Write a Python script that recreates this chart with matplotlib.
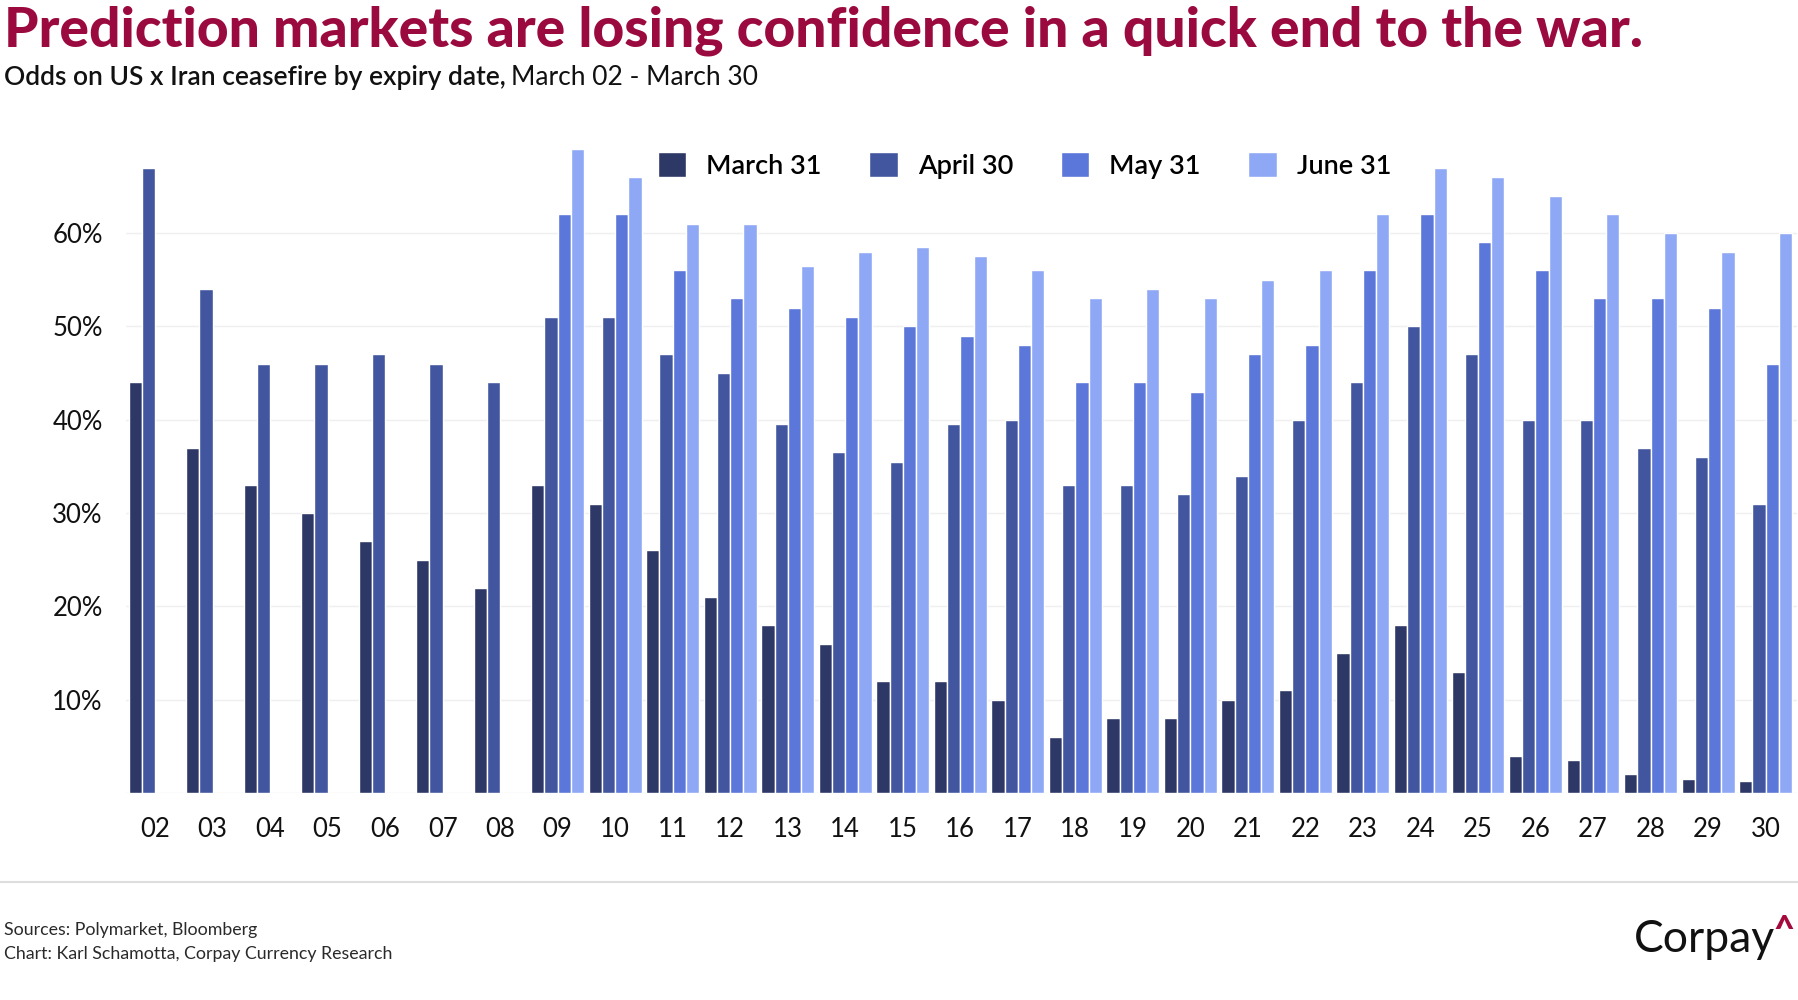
import numpy as np
import matplotlib.pyplot as plt

# expiry dates (March 2026) and odds in %
dates = ['02', '03', '04', '05', '06', '07', '08', '09', '10', '11', '12', '13', '14', '15',
         '16', '17', '18', '19', '20', '21', '22', '23', '24', '25', '26', '27', '28', '29', '30']
march31 = [44, 37, 33, 30, 27, 25, 22, 33, 31, 26, 21, 18, 16, 12, 12, 10, 6, 8, 8, 10, 11,
           15, 18, 13, 4, 3.6, 2, 1.5, 1.3]
april30 = [67, 54, 46, 46, 47, 46, 44, 51, 51, 47, 45, 39.5, 36.5, 35.5, 39.5, 40, 33, 33, 32,
           34, 40, 44, 50, 47, 40, 40, 37, 36, 31]
may31 = [np.nan] * 7 + [62, 62, 56, 53, 52, 51, 50, 49, 48, 44, 44, 43, 47, 48, 56, 62, 59, 56,
                        53, 53, 52, 46]
june31 = [np.nan] * 7 + [69, 66, 61, 61, 56.5, 58, 58.5, 57.5, 56, 53, 54, 53, 55, 56, 62, 67,
                         66, 64, 62, 60, 58, 60]

series = [march31, april30, may31, june31]
names = ['March 31', 'April 30', 'May 31', 'June 31']
colors = ['#2D3866', '#41569E', '#5B77D9', '#8EA8F5']

plt.rcParams['font.family'] = ['Lato', 'DejaVu Sans']

fig = plt.figure(figsize=(17.99, 10), dpi=100)
ax = fig.add_axes([0.0702, 0.2069, 0.9288, 0.6533])

x = np.arange(len(dates))
w = 0.23
for i in range(4):
    ax.bar(x + (i - 1.5) * w, series[i], w, color=colors[i], edgecolor='white',
           linewidth=1, label=names[i], zorder=2)

ax.set_xlim(-0.5, 28.55)
ax.set_ylim(0, 70)
ax.set_yticks([0, 10, 20, 30, 40, 50, 60])
ax.set_yticklabels(['', '10%', '20%', '30%', '40%', '50%', '60%'])
ax.set_xticks(x)
ax.set_xticklabels(dates)
ax.tick_params(axis='both', length=0, labelsize=18.5, colors='#111111')
ax.tick_params(axis='y', pad=17)
ax.tick_params(axis='x', pad=17)
ax.grid(axis='y', color='#EFEFEF', linewidth=1, zorder=0)
for s in ax.spines.values():
    s.set_visible(False)

leg = ax.legend(loc='center', bbox_to_anchor=(0.5695, 0.8345), bbox_transform=fig.transFigure,
                ncol=4, frameon=False, handlelength=1.05, handleheight=1.05,
                handletextpad=0.75, columnspacing=1.75,
                prop={'size': 19.5, 'weight': 'semibold'})

# titles
fig.text(0.002, 0.953, 'Prediction markets are losing confidence in a quick end to the war.',
         fontsize=39.7, fontweight='black', color='#9B0A3F', va='baseline')
t1 = fig.text(0.002, 0.915, 'Odds on US x Iran ceasefire by expiry date,', fontsize=19,
              fontweight='semibold', color='#111111', va='baseline')
fig.canvas.draw()
bb = t1.get_window_extent().transformed(fig.transFigure.inverted())
fig.text(bb.x1 + 0.003, 0.915, 'March 02 - March 30', fontsize=19, color='#111111',
         va='baseline')

# footer
fig.add_artist(plt.Line2D([0, 1], [0.1184, 0.1184], color='#DDDDDD', linewidth=1.5))
fig.text(0.002, 0.070, 'Sources: Polymarket, Bloomberg', fontsize=12.8, color='#2A2A2A',
         va='center')
fig.text(0.002, 0.046, 'Chart: Karl Schamotta, Corpay Currency Research', fontsize=12.8,
         color='#2A2A2A', va='center')
fig.text(0.9865, 0.048, 'Corpay', fontsize=32, color='#111111', ha='right', va='baseline')
fig.text(0.9975, 0.059, '^', fontsize=26, fontweight='black', color='#A50A3D', ha='right',
         va='baseline')

fig.savefig('out.png', dpi=100)
